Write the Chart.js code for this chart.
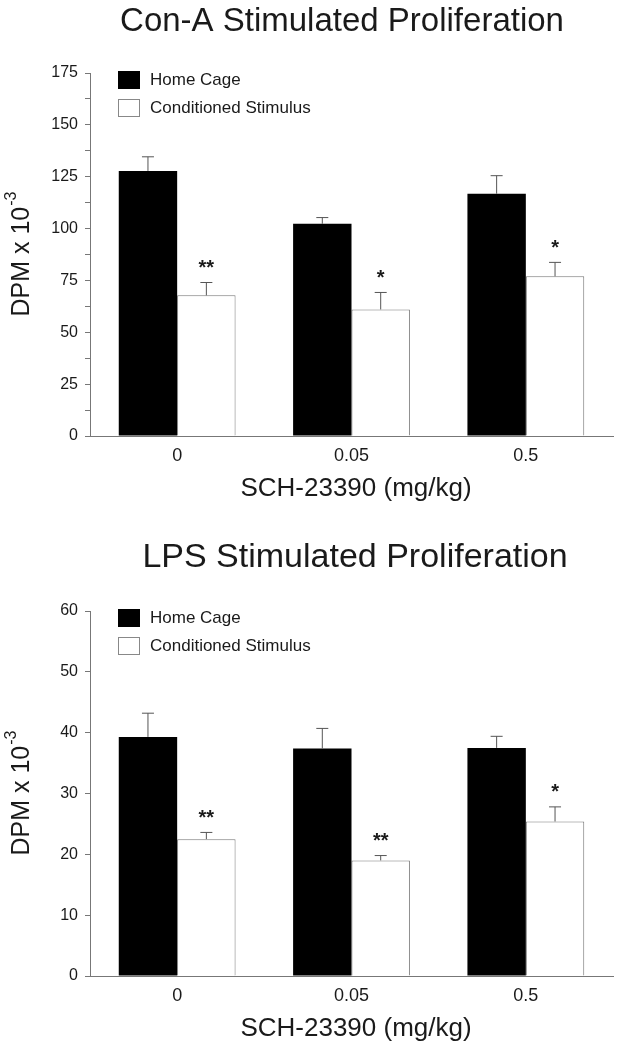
<!DOCTYPE html>
<html>
<head>
<meta charset="utf-8">
<script src="https://cdn.jsdelivr.net/npm/chart.js@4.4.0/dist/chart.umd.min.js"></script>
<style>
  body { margin: 0; background: #fff; }
  .box { position: absolute; left: 0; width: 622px; }
</style>
</head>
<body>
<div class="box" style="top:0; height:520px;"><canvas id="conaChart"></canvas></div>
<div class="box" style="top:530px; height:519px;"><canvas id="lpsChart"></canvas></div>
<script>
// Daten
const doses = ['0', '0.05', '0.5'];
const seriesNames = ['Home Cage', 'Conditioned Stimulus'];

const conaHome = [127.8, 102.3, 116.8];
const conaHomeErr = [6.8, 3.0, 8.7];
const conaCS = [67.8, 61.0, 77.0];
const conaCSErr = [6.2, 8.2, 6.7];
const conaStars = ['**', '*', '*'];

const lpsHome = [39.3, 37.4, 37.5];
const lpsHomeErr = [3.9, 3.3, 1.9];
const lpsCS = [22.5, 19.0, 25.4];
const lpsCSErr = [1.1, 0.8, 2.4];
const lpsStars = ['**', '**', '*'];

const axisGrey = '#777';
const textCol = '#1a1a1a';
const fontName = "'Liberation Sans', Arial, sans-serif";

// Fehlerbalken, Sterne, Titel und Legende zeichnen
const extrasPlugin = {
  id: 'extras',
  afterDatasetsDraw(chart) {
    const ctx = chart.ctx;
    const y = chart.scales.y;
    ctx.save();
    ctx.strokeStyle = '#555';
    ctx.lineWidth = 1;
    chart.data.datasets.forEach((ds, i) => {
      const meta = chart.getDatasetMeta(i);
      meta.data.forEach((bar, j) => {
        const top = y.getPixelForValue(ds.data[j] + ds.errors[j]);
        ctx.beginPath();
        ctx.moveTo(bar.x, bar.y);
        ctx.lineTo(bar.x, top);
        ctx.moveTo(bar.x - 6, top);
        ctx.lineTo(bar.x + 6, top);
        ctx.stroke();
        if (ds.stars) {
          ctx.fillStyle = textCol;
          ctx.font = 'bold 20px ' + fontName;
          ctx.textAlign = 'center';
          ctx.textBaseline = 'middle';
          ctx.fillText(ds.stars[j], bar.x, top - 14);
        }
      });
    });
    ctx.restore();
  },
  afterDraw(chart) {
    const ctx = chart.ctx;
    const area = chart.chartArea;
    const ex = chart.options.plugins.extras;
    ctx.save();
    ctx.fillStyle = textCol;
    ctx.textBaseline = 'middle';

    // Titel
    ctx.font = ex.titleSize + 'px ' + fontName;
    ctx.textAlign = 'center';
    ctx.fillText(ex.title, ex.titleX, ex.titleY);

    // x-Achsentitel
    ctx.font = '26px ' + fontName;
    ctx.fillText('SCH-23390 (mg/kg)', 356, area.bottom + 53);

    // y-Achsentitel mit Exponent
    ctx.translate(22, (area.top + area.bottom) / 2);
    ctx.rotate(-Math.PI / 2);
    ctx.font = '25px ' + fontName;
    const main = 'DPM x 10';
    const w1 = ctx.measureText(main).width;
    ctx.font = '16px ' + fontName;
    const w2 = ctx.measureText('-3').width;
    const x0 = -(w1 + w2) / 2;
    ctx.textAlign = 'left';
    ctx.font = '25px ' + fontName;
    ctx.fillText(main, x0, 0);
    ctx.font = '16px ' + fontName;
    ctx.fillText('-3', x0 + w1 + 1, -10);
    ctx.setTransform(1, 0, 0, 1, 0, 0);

    // Legende
    ctx.font = '17px ' + fontName;
    ctx.textAlign = 'left';
    chart.data.datasets.forEach((ds, i) => {
      const bx = 118, by = area.top + (i === 0 ? -2 : 26);
      ctx.fillStyle = ds.backgroundColor;
      ctx.fillRect(bx, by, 22, 18);
      ctx.strokeStyle = i === 0 ? '#000' : '#888';
      ctx.lineWidth = 1;
      ctx.strokeRect(bx + 0.5, by + 0.5, 21, 17);
      ctx.fillStyle = textCol;
      ctx.fillText(ds.label, 150, by + 9);
    });
    ctx.restore();
  }
};

function makeChart(id, home, homeErr, cs, csErr, stars, yMax, step, minorStep, title, titleSize, titleX, titleY, padTop, xHeight) {
  return new Chart(document.getElementById(id), {
    type: 'bar',
    data: {
      labels: doses,
      datasets: [
        {
          label: seriesNames[0],
          data: home,
          errors: homeErr,
          backgroundColor: '#000',
          borderColor: '#000',
          borderWidth: 0
        },
        {
          label: seriesNames[1],
          data: cs,
          errors: csErr,
          stars: stars,
          backgroundColor: '#fff',
          borderColor: '#777',
          borderWidth: 1,
          borderSkipped: 'bottom'
        }
      ]
    },
    plugins: [extrasPlugin],
    options: {
      responsive: true,
      maintainAspectRatio: false,
      animation: false,
      layout: { padding: { top: padTop, right: 9, left: 0, bottom: 0 } },
      datasets: { bar: { categoryPercentage: 0.67, barPercentage: 1 } },
      scales: {
        x: {
          afterFit(scale) { scale.height = xHeight; },
          grid: { drawOnChartArea: false, drawTicks: false },
          border: { display: true, color: axisGrey, width: 1 },
          ticks: { color: textCol, padding: 9, font: { size: 18, family: fontName } }
        },
        y: {
          min: 0,
          max: yMax,
          afterFit(scale) { scale.width = 90; },
          grid: { drawOnChartArea: false, drawTicks: true, tickLength: 5, color: axisGrey },
          border: { display: true, color: axisGrey, width: 1 },
          ticks: {
            stepSize: minorStep,
            padding: 7,
            color: textCol,
            font: { size: 16, family: fontName },
            callback: (v) => (v % step === 0 ? v : '')
          }
        }
      },
      plugins: {
        legend: { display: false },
        tooltip: { enabled: false },
        extras: { title: title, titleSize: titleSize, titleX: titleX, titleY: titleY }
      }
    }
  });
}

makeChart('conaChart', conaHome, conaHomeErr, conaCS, conaCSErr, conaStars,
  175, 25, 12.5, 'Con-A Stimulated Proliferation', 33, 342, 22, 73, 84);
makeChart('lpsChart', lpsHome, lpsHomeErr, lpsCS, lpsCSErr, lpsStars,
  60, 10, 10, 'LPS Stimulated Proliferation', 34, 355, 28, 81, 73);
</script>
</body>
</html>
